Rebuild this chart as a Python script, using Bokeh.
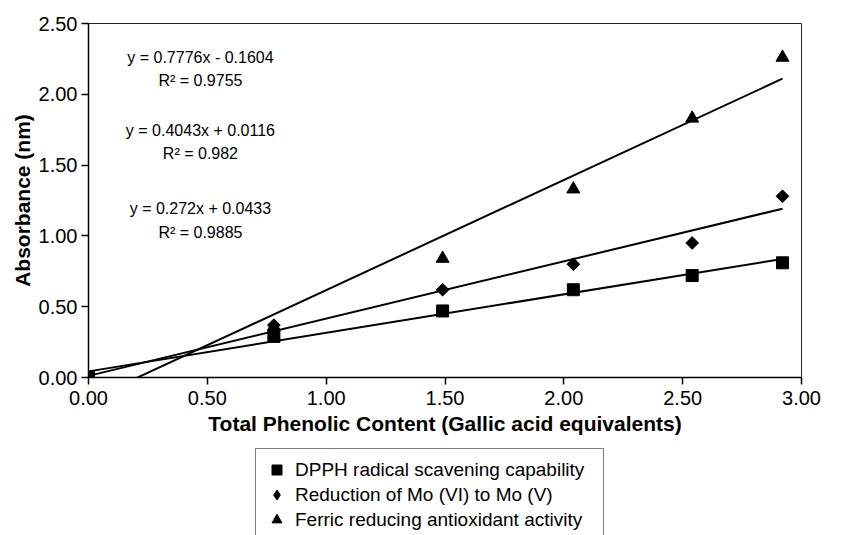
import numpy as np
from bokeh.plotting import figure
from bokeh.layouts import column
from bokeh.models import Legend, LegendItem, FixedTicker, NumeralTickFormatter
from bokeh.core.properties import value
from bokeh.embed import file_html
from bokeh.resources import INLINE

# ---- data ----
phenolic = [0.00, 0.78, 1.49, 2.04, 2.54, 2.92]
dpph = [0.00, 0.29, 0.47, 0.62, 0.72, 0.81]
mo_reduction = [0.00, 0.37, 0.62, 0.80, 0.95, 1.28]
ferric = [0.00, 0.36, 0.84, 1.33, 1.83, 2.26]

series_names = ["DPPH radical scavening capability",
                "Reduction of Mo (VI) to Mo (V)",
                "Ferric reducing antioxidant activity"]

# trendline coefficients (ferric, mo, dpph)
trend_slopes = [0.7776, 0.4043, 0.272]
trend_intercepts = [-0.1604, 0.0116, 0.0433]
trend_eqs = ["y = 0.7776x - 0.1604", "y = 0.4043x + 0.0116", "y = 0.272x + 0.0433"]
trend_r2 = ["R\u00b2 = 0.9755", "R\u00b2 = 0.982", "R\u00b2 = 0.9885"]

x_ticks = [0.0, 0.5, 1.0, 1.5, 2.0, 2.5, 3.0]
y_ticks = [0.0, 0.5, 1.0, 1.5, 2.0, 2.5]

FONT = "Liberation Sans"

p = figure(width=853, height=445, x_range=(0, 3), y_range=(0, 2.5),
           output_backend="svg", toolbar_location=None,
           min_border_left=88, min_border_right=52,
           min_border_top=23, min_border_bottom=68)
p.background_fill_color = "white"
p.border_fill_color = "white"
p.outline_line_color = "#222222"
p.outline_line_width = 1
p.xgrid.visible = False
p.ygrid.visible = False

# trendlines
for s, b in zip(trend_slopes, trend_intercepts):
    xs = np.array([min(phenolic), max(phenolic)])
    p.line(xs, s * xs + b, line_color="black", line_width=2)

p.scatter(phenolic, dpph, marker="square", size=12, color="black")
p.scatter(phenolic, mo_reduction, marker="square", angle=np.pi / 4,
          size=9, color="black")
p.scatter(phenolic, ferric, marker="triangle", size=13, color="black")

# equation texts
eq_x = 0.471
eq_y = [2.26, 1.745, 1.19]
r2_y = [2.10, 1.58, 1.025]
p.text(x=[eq_x] * 3, y=eq_y, text=trend_eqs, text_font=value(FONT),
       text_font_size="16px", text_align="center", text_baseline="middle",
       text_color="black")
p.text(x=[eq_x] * 3, y=r2_y, text=trend_r2, text_font=value(FONT),
       text_font_size="16px", text_align="center", text_baseline="middle",
       text_color="black")

# axes
for ax in (p.xaxis[0], p.yaxis[0]):
    ax.axis_line_color = "black"
    ax.axis_line_width = 1.5
    ax.major_tick_line_color = "black"
    ax.major_tick_line_width = 1.5
    ax.major_tick_in = 0
    ax.major_tick_out = 7
    ax.minor_tick_line_color = None
    ax.formatter = NumeralTickFormatter(format="0.00")
    ax.major_label_text_font = FONT
    ax.major_label_text_font_size = "20px"
    ax.major_label_text_color = "black"
    ax.axis_label_text_font = FONT
    ax.axis_label_text_font_size = "21px"
    ax.axis_label_text_font_style = "bold"
    ax.axis_label_text_color = "black"

p.xaxis.ticker = FixedTicker(ticks=x_ticks)
p.yaxis.ticker = FixedTicker(ticks=y_ticks)
p.xaxis.axis_label = "Total Phenolic Content (Gallic acid equivalents)"
p.yaxis.axis_label = "Absorbance (nm)"
p.xaxis.major_label_standoff = 6
p.xaxis.axis_label_standoff = 4
p.yaxis.major_label_standoff = 4
p.yaxis.axis_label_standoff = 2

# ---- legend strip below the chart (its ranges keep the key renderers' points out of view) ----
p2 = figure(width=853, height=90, x_range=(100, 101), y_range=(100, 101),
            output_backend="svg", toolbar_location=None,
            min_border_left=0, min_border_right=0,
            min_border_top=0, min_border_bottom=0)
p2.axis.visible = False
p2.xgrid.visible = False
p2.ygrid.visible = False
p2.outline_line_color = None
p2.background_fill_color = "white"
p2.border_fill_color = "white"

l_sq = p2.scatter(phenolic, dpph, marker="square", size=12, color="black")
l_dm = p2.scatter(phenolic, mo_reduction, marker="diamond", size=14, color="black")
l_tr = p2.scatter(phenolic, ferric, marker="triangle", size=13, color="black")

legend = Legend(items=[LegendItem(label=series_names[0], renderers=[l_sq]),
                       LegendItem(label=series_names[1], renderers=[l_dm]),
                       LegendItem(label=series_names[2], renderers=[l_tr])],
                location=(167, -6))
legend.label_text_font = FONT
legend.label_text_font_size = "19px"
legend.label_text_color = "black"
legend.border_line_color = "black"
legend.border_line_width = 1
legend.background_fill_color = "white"
legend.background_fill_alpha = 1
legend.padding = 8
legend.spacing = 0
legend.glyph_width = 25
legend.glyph_height = 25
legend.label_height = 25
legend.label_width = 300
legend.label_standoff = 6
legend.margin = 0
p2.add_layout(legend)

layout = column(p, p2, spacing=0)
open("out.html", "w").write(file_html(layout, INLINE))
